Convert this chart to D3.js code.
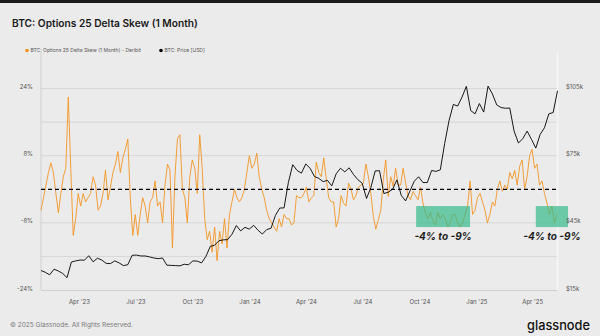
<!DOCTYPE html>
<html><head><meta charset="utf-8">
<script src="https://cdn.jsdelivr.net/npm/d3@7"></script>
<style>
html,body{margin:0;padding:0;background:#ebebeb;}
svg{display:block;font-family:Inter,"Noto Sans",sans-serif;}
</style>
</head><body>
<svg id="chart" width="600" height="336"></svg>
<script>
// ---------- data ----------
const skewStart = "2023-01-29";
const skewStepDays = 4;
const skewValues = [
  -5, -2, 1, 4, 6.3, 4, -1, -5.6, -1, 3,
  5, 22, 5, -11, -7, -1, -4, -1, -3, -2,
  -1, 3, 1, -5, -4, -1, 4.6, -2.5, 0.5, 4,
  6, 9, 4, 7.5, 9.5, 12, -2, -11, -6, -11,
  -6, -2, -4, -8, -3, -2, 2, -4, -3, -8,
  1, 6, 4.6, -14, 3, 12, 13, 0, -2, -8,
  3, 7, 5, -1, 13, 5, -7, -12, -10, -15,
  -9, -17, -10, -13, -7, -14, -6, -3, 0, -2,
  -3, -2, 0, 4, 8, 5, 6, 8.6, 3, 0,
  -2, -5, -7, -8, -9, -10, -7, -9, -6, -7,
  -7, -8.5, -8, -1.5, -2, -2, -1, 0.5, -3, -2,
  -1.5, 6.5, 4, 3, 7.5, 2.5, -2, -3, -3, -9,
  -7, -1.5, -3.3, -4, 1.5, 0, -2.5, -1.5, 0.5, 1,
  1.5, 6, 3, -1, -6.5, -9.5, -7.3, -5, 2.3, 7,
  -1.7, 3, 0.7, 5, 1, 1, 5, 1.5, -1.5, -2.5,
  -0.5, -1.5, -2.5, 0.5, -3.3, -5.7, -7, -5.5, -7.5, -8.5,
  -5.5, -7, -6, -7, -9, -8, -6, -6, -8, -9,
  -8, -6, -4, 2, -6, -5, -2, -1, -3, -5,
  -8, -6, -3, -4, 0, 2, -0.5, 1, 0, 4,
  2.5, 4.5, 1, 5.5, 7, 0, 3, 8, 9.5, 5,
  6, 1, 2, -1, -3.3, -6, -4, -8, -6
];

const priceStart = "2023-01-29";
const priceStepDays = 7;
const priceValues = [ // thousands USD
  23.7, 22.9, 21.8, 24.3, 23.5, 22.4, 20.5, 27.5, 28.0, 28.4,
  28.3, 30.3, 27.6, 29.2, 28.4, 26.9, 26.8, 28.0, 27.1, 25.9,
  26.3, 30.5, 30.6, 30.2, 30.2, 29.8, 29.3, 29.0, 29.3, 26.1,
  26.0, 25.9, 25.8, 26.5, 26.3, 28.0, 27.9, 27.1, 30.0, 34.5,
  35.0, 37.0, 37.4, 37.5, 39.9, 43.8, 41.4, 43.0, 42.2,
  43.9, 41.7, 40.0, 42.0, 42.6, 48.3, 51.6, 51.7, 63.1, 71.0,
  68.4, 67.2, 71.3, 69.4, 65.7, 64.9, 63.4, 64.0, 61.5, 66.9,
  69.4, 67.8, 69.6, 66.6, 64.3, 62.7, 55.9, 60.8, 68.2, 68.3,
  58.1, 58.7, 60.0, 64.2, 57.3, 54.8, 59.2, 63.6, 65.6, 63.0,
  63.0, 68.4, 68.0, 68.7, 80.4, 90.6, 97.9, 97.2, 101.2, 106.0,
  95.2, 93.7,
  98.3, 94.5, 106.1, 102.6, 97.7, 96.5, 96.2, 96.3, 86.0, 80.7,
  82.6, 86.0, 82.3, 78.4, 84.5, 87.5, 93.7, 94.3, 104.0
];

const leftTickLabels = [-24, -8, 8, 24];
const gridValues = [-16, -8, 8, 16, 24];
const rightTickLabels = [15, 45, 75, 105];
const xTickDates = ["2023-04-01","2023-07-01","2023-10-01","2024-01-01","2024-04-01",
                    "2024-07-01","2024-10-01","2025-01-01","2025-04-01"];
const zoneFrom = ["2024-09-25", "2025-04-06"];
const zoneTo   = ["2024-12-21", "2025-05-28"];
const zoneHigh = -4, zoneLow = -9;
const zoneLabel = "-4% to -9%";

const seriesNames = ["BTC: Options 25 Delta Skew (1 Month) - Deribit", "BTC: Price [USD]"];

// ---------- build ----------
const parse = d3.utcParse("%Y-%m-%d");
const skew = skewValues.map((v, i) => ({date: d3.utcDay.offset(parse(skewStart), i * skewStepDays), v}));
const price = priceValues.map((v, i) => ({date: d3.utcDay.offset(parse(priceStart), i * priceStepDays), v}));

const svg = d3.select("#chart");
const W = 600, H = 336;
const plot = {left: 41, right: 557.5, top: 55, bottom: 290};

svg.append("rect").attr("width", W).attr("height", H).attr("fill", "#ebebeb");
svg.append("rect").attr("width", W).attr("height", 3).attr("fill", "#1b1b1b");

const x = d3.scaleUtc().domain([parse("2023-01-29"), parse("2025-05-11")]).range([plot.left, plot.right]);
const yL = d3.scaleLinear().domain([-24, 32]).range([plot.bottom, plot.top]);
const yR = d3.scaleLinear().domain([15, 120]).range([plot.bottom, plot.top]);

// grid
svg.append("g").selectAll("line").data(gridValues).join("line")
  .attr("x1", plot.left).attr("x2", plot.right)
  .attr("y1", d => yL(d)).attr("y2", d => yL(d))
  .attr("stroke", "#d6d6d6").attr("stroke-width", 1);

// axes frame
svg.append("line").attr("x1", plot.left).attr("x2", plot.left).attr("y1", 52).attr("y2", plot.bottom)
  .attr("stroke", "#cfcfcf");
svg.append("line").attr("x1", plot.right).attr("x2", plot.right).attr("y1", 52).attr("y2", plot.bottom)
  .attr("stroke", "#f6f6f6").attr("stroke-width", 1.5);
svg.append("line").attr("x1", plot.left).attr("x2", plot.right).attr("y1", plot.bottom + 0.5).attr("y2", plot.bottom + 0.5)
  .attr("stroke", "#d0d0d0");

// lines
const skewLine = d3.line().x(d => x(d.date)).y(d => yL(d.v));
const priceLine = d3.line().x(d => x(d.date)).y(d => yR(d.v));

svg.append("path").datum(skew).attr("d", skewLine)
  .attr("fill", "none").attr("stroke", "#f39524").attr("stroke-width", 0.9).attr("stroke-linejoin", "round");
svg.append("path").datum(price).attr("d", priceLine)
  .attr("fill", "none").attr("stroke", "#000").attr("stroke-width", 0.9).attr("stroke-linejoin", "round");

// zero dashed line
svg.append("line").attr("x1", plot.left).attr("x2", plot.right)
  .attr("y1", yL(0)).attr("y2", yL(0))
  .attr("stroke", "#000").attr("stroke-width", 1.2).attr("stroke-dasharray", "4,3");

// zones
zoneFrom.forEach((f, i) => {
  const x0 = x(parse(f)), x1 = x(parse(zoneTo[i]));
  svg.append("rect").attr("x", x0).attr("y", yL(zoneHigh))
    .attr("width", x1 - x0).attr("height", yL(zoneLow) - yL(zoneHigh))
    .attr("fill", "#35bb8a").attr("fill-opacity", 0.7);
  svg.append("text").attr("x", (x0 + x1) / 2).attr("y", yL(zoneLow) + 13)
    .attr("text-anchor", "middle").attr("font-size", 10).attr("font-weight", 700)
    .attr("font-style", "italic").attr("fill", "#1e1e1e").text(zoneLabel);
});

// left labels
svg.append("g").selectAll("text").data(leftTickLabels).join("text")
  .attr("x", 33).attr("y", d => yL(d) + 0.5).attr("text-anchor", "end")
  .attr("font-size", 6).attr("fill", "#555").text(d => d + "%");
// right labels
svg.append("g").selectAll("text").data(rightTickLabels).join("text")
  .attr("x", 566).attr("y", d => yR(d) + 0.5).attr("text-anchor", "start")
  .attr("font-size", 6).attr("fill", "#555").text(d => "$" + d + "k");
// x labels
const fmt = d3.utcFormat("%b '%y");
svg.append("g").selectAll("text").data(xTickDates).join("text")
  .attr("x", d => x(parse(d))).attr("y", 304).attr("text-anchor", "middle")
  .attr("font-size", 6).attr("fill", "#555").text(d => fmt(parse(d)));

// title
svg.append("text").attr("x", 12).attr("y", 27).attr("font-size", 10.2).attr("font-weight", 600)
  .attr("fill", "#1a1a1a").text("BTC: Options 25 Delta Skew (1 Month)");

// legend
svg.append("circle").attr("cx", 27).attr("cy", 50.5).attr("r", 1.8).attr("fill", "#f5921e");
svg.append("text").attr("x", 30.5).attr("y", 52.3).attr("font-size", 5).attr("fill", "#555").text(seriesNames[0]);
svg.append("circle").attr("cx", 161).attr("cy", 50.5).attr("r", 1.8).attr("fill", "#000");
svg.append("text").attr("x", 164.5).attr("y", 52.3).attr("font-size", 5).attr("fill", "#555").text(seriesNames[1]);

// footer
svg.append("text").attr("x", 10).attr("y", 327).attr("font-size", 6.5).attr("fill", "#7a7a7a")
  .text("© 2025 Glassnode. All Rights Reserved.");
svg.append("text").attr("x", 527).attr("y", 330).attr("font-size", 13).attr("font-weight", 500)
  .attr("textLength", 63).attr("lengthAdjust", "spacingAndGlyphs")
  .attr("fill", "#111").text("glassnode");
</script>
</body></html>
